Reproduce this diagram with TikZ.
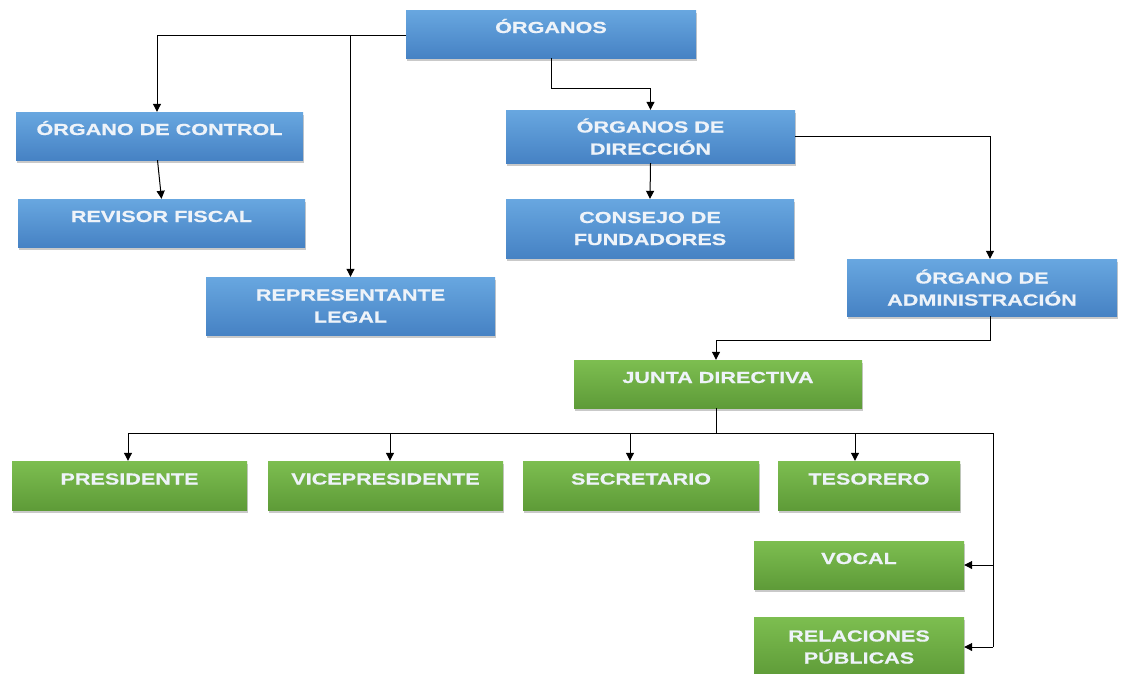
\documentclass[tikz,border=0pt]{standalone}
\usepackage{fontspec}
\newfontfamily\boxfont[FakeStretch=1.35, BoldFeatures={FakeBold=0.6}]{Liberation Sans}
\usetikzlibrary{arrows.meta,shadows,calc}
\definecolor{bluetop}{HTML}{68A7E0}
\definecolor{bluebot}{HTML}{4682C4}
\definecolor{greentop}{HTML}{7DBE50}
\definecolor{greenbot}{HTML}{5E9B38}
\definecolor{txtcol}{HTML}{EEF3F9}
\tikzset{
  box/.style={rectangle, inner sep=0pt, align=center, text=txtcol,
    font=\boxfont\bfseries\fontsize{16}{22}\selectfont,
    drop shadow={shadow xshift=1pt, shadow yshift=-3pt, opacity=0.35, fill=black!60}},
  bluebox/.style={box, top color=bluetop, bottom color=bluebot},
  greenbox/.style={box, top color=greentop, bottom color=greenbot},
  oneline/.style={text height=12pt, text depth=14pt},
  arr/.style={-{Triangle[length=8pt,width=8pt]}},
  line/.style={draw=black, line width=1pt}
}
\begin{document}
\begin{tikzpicture}[x=1pt,y=-1pt]
\useasboundingbox (0,0) rectangle (1127,673);
\fill[white] (0,0) rectangle (1127,673);
% blue nodes
\node[bluebox, oneline, minimum width=290pt, minimum height=48pt] (org) at (551,34) {ÓRGANOS};
\node[bluebox, oneline, minimum width=287pt, minimum height=48pt] (ctrl) at (159.5,136) {ÓRGANO DE CONTROL};
\node[bluebox, oneline, minimum width=287pt, minimum height=48pt] (rev) at (161.5,223) {REVISOR FISCAL};
\node[bluebox, minimum width=289pt, minimum height=53pt] (dir) at (650.5,136.5) {ÓRGANOS DE\\DIRECCIÓN};
\node[bluebox, minimum width=288pt, minimum height=59pt] (cons) at (650,228.5) {CONSEJO DE\\FUNDADORES};
\node[bluebox, minimum width=289pt, minimum height=58pt] (rep) at (350.5,306) {REPRESENTANTE\\LEGAL};
\node[bluebox, minimum width=270pt, minimum height=57pt] (adm) at (982,287.5) {ÓRGANO DE\\ADMINISTRACIÓN};
% green nodes
\node[greenbox, oneline, minimum width=288pt, minimum height=48pt] (junta) at (718,384) {JUNTA DIRECTIVA};
\node[greenbox, oneline, minimum width=235pt, minimum height=49pt] (pres) at (129.5,485.5) {PRESIDENTE};
\node[greenbox, oneline, minimum width=235pt, minimum height=49pt] (vice) at (385.5,485.5) {VICEPRESIDENTE};
\node[greenbox, oneline, minimum width=236pt, minimum height=49pt] (sec) at (641,485.5) {SECRETARIO};
\node[greenbox, oneline, minimum width=182pt, minimum height=49pt] (tes) at (869,485.5) {TESORERO};
\node[greenbox, oneline, minimum width=210pt, minimum height=48pt] (vocal) at (859,565) {VOCAL};
\node[greenbox, minimum width=210pt, minimum height=60pt] (rel) at (859,647) {RELACIONES\\PÚBLICAS};
% coordinates
\coordinate (orgL) at ($(org.west)+(0,1)$);
\coordinate (repTop) at (rep.north);
\coordinate (j1) at ($(org.south)+(0,30)$);
\coordinate (admTop) at ($(adm.north)+(8,0)$);
\coordinate (admBot) at ($(adm.south)+(8,0)$);
\coordinate (j2) at ($(admBot)+(0,24)$);
\coordinate (bus) at (716,433);
\coordinate (rbus) at (993,433);
% connectors
\draw[line, arr] (orgL) -| ($(ctrl.north)+(-2.5,0)$);
\draw[line, arr] (orgL -| repTop) -- (rep.north);
\draw[line, arr] (org.south) -- (j1) -| (dir.north);
\draw[line, arr] ($(ctrl.south)+(-2,0)$) -- (rev.north);
\draw[line, arr] (dir.south) -- (cons.north);
\draw[line, arr] (dir.east) -| (admTop);
\draw[line, arr] (admBot) -- (j2) -| ($(junta.north)+(-2,0)$);
\draw[line] ($(junta.south)+(-2,0)$) -- (bus);
\draw[line, arr] (bus) -| ($(pres.north)+(-1.5,0)$);
\draw[line, arr] (bus) -| ($(vice.north)+(4.5,0)$);
\draw[line, arr] (bus) -| ($(sec.north)+(-11,0)$);
\draw[line, arr] (bus) -| ($(tes.north)+(-14,0)$);
\draw[line] (bus) -- (rbus) -- (rbus |- rel.east);
\draw[line, arr] (rbus |- vocal.east) -- (vocal.east);
\draw[line, arr] (rbus |- rel.east) -- (rel.east);
\end{tikzpicture}
\end{document}
